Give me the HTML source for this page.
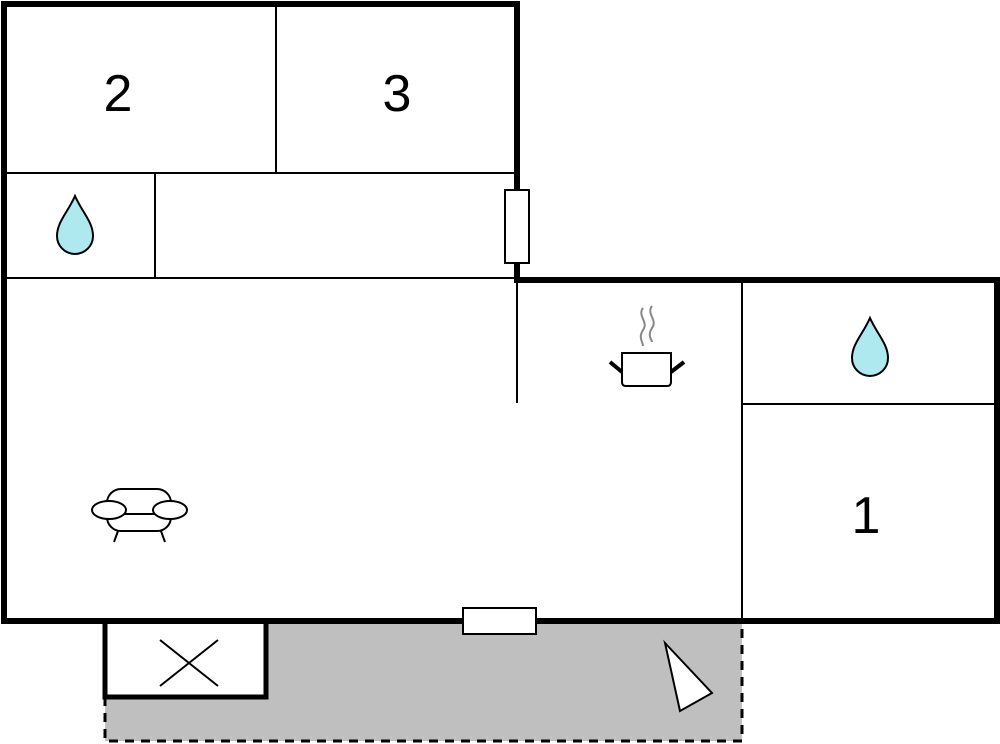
<!DOCTYPE html>
<html><head><style>body{margin:0;background:#fff}svg{display:block}</style></head><body>
<svg width="1000" height="744" viewBox="0 0 1000 744" xmlns="http://www.w3.org/2000/svg">
<rect x="105" y="621" width="637" height="120" fill="#bfbfbf"/>
<path d="M105 697 V741 H742 V621" fill="none" stroke="#000" stroke-width="3" stroke-dasharray="9,7"/>
<rect x="105" y="621" width="161" height="76" fill="#fff" stroke="#000" stroke-width="5"/>
<path d="M160 640 L218 686 M218 640 L160 686" stroke="#000" stroke-width="2"/>
<polygon points="665,643 712,693 680,711" fill="#fff" stroke="#000" stroke-width="2"/>
<g stroke="#000" stroke-width="2" fill="none">
<path d="M276 4 V173 M4 173 H517 M155 173 V278 M4 278 H517 M517 280 V403 M742 280 V621 M742 404 H997"/>
</g>
<path d="M4 4 H517 V280 H997 V621 H4 Z" fill="none" stroke="#000" stroke-width="6"/>
<rect x="505" y="190" width="24" height="73" fill="#fff" stroke="#000" stroke-width="2"/>
<rect x="463" y="608" width="73" height="26" fill="#fff" stroke="#000" stroke-width="2"/>
<g fill="#aee9f0" stroke="#000" stroke-width="2">
<path d="M75 196 C68 212 57 222 57 236 A18 18 0 0 0 93 236 C93 222 82 212 75 196 Z"/>
<path d="M870 318 C863 334 852 344 852 358 A18 18 0 0 0 888 358 C888 344 877 334 870 318 Z"/>
</g>
<g font-family="Liberation Sans, sans-serif" font-size="52" text-anchor="middle">
<text x="118" y="111">2</text><text x="397" y="111">3</text><text x="866" y="533">1</text>
</g>
<g fill="none">
<path d="M643 308 c-6 8 6 14 0 22 c-5 8 0 12 0 16 M652 306 c-6 8 6 14 0 22 c-5 8 0 12 0 14" stroke="#888" stroke-width="2"/>
<path d="M622 353 H671 V382 Q671 386 667 386 H626 Q622 386 622 382 Z" stroke="#000" stroke-width="2" fill="#fff"/>
<path d="M610 362 L622 372 M684 362 L671 372" stroke="#000" stroke-width="4"/>
</g>
<g fill="#fff" stroke="#000" stroke-width="2">
<rect x="107" y="489" width="64" height="42" rx="14"/>
<line x1="107" y1="514" x2="171" y2="514"/>
<ellipse cx="109" cy="510" rx="17" ry="9"/>
<ellipse cx="170" cy="510" rx="17" ry="9"/>
<path d="M118 531 L114 542 M161 531 L165 542"/>
</g>
</svg>
</body></html>
